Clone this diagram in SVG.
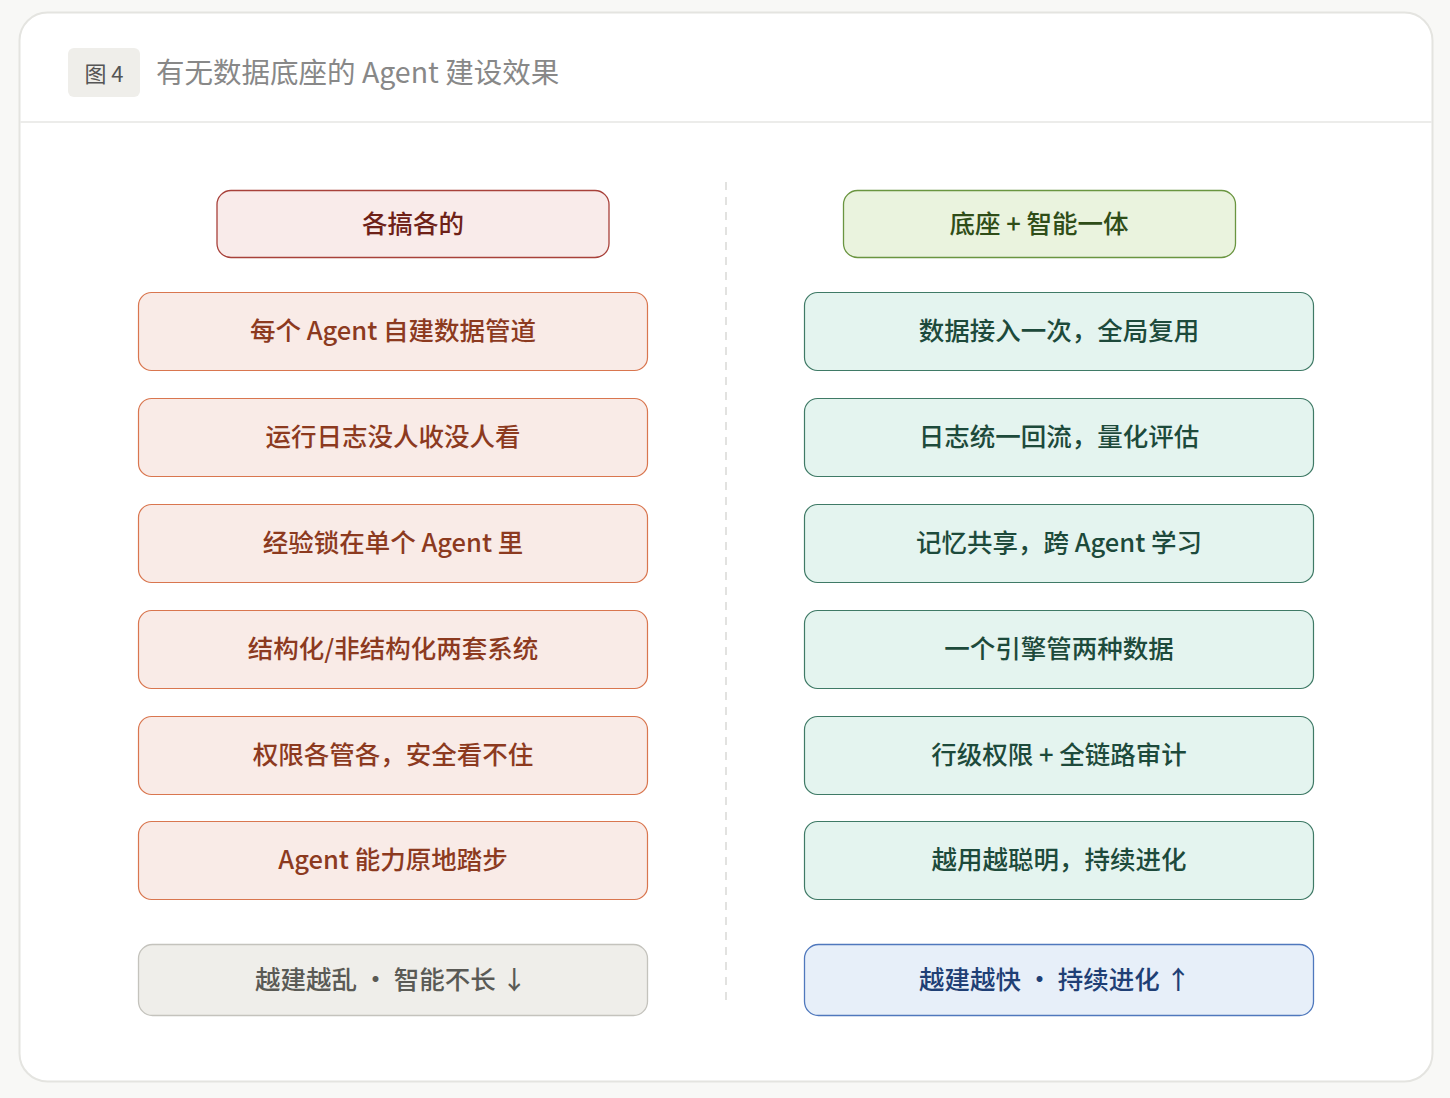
<svg xmlns="http://www.w3.org/2000/svg" width="1450" height="1098" viewBox="0 0 1450 1098">
<style>
text{font-family:"Noto Sans CJK SC","Noto Sans",sans-serif;text-anchor:middle;dominant-baseline:central}
.t{font-size:25.5px;font-weight:500}
.l rect{fill:#f9ebe7;stroke:#d9764f;stroke-width:1.2}
.l text{fill:#8c3a1f}
.r rect{fill:#e4f4ef;stroke:#3f7a66;stroke-width:1.2}
.r text{fill:#1d4a3b}
</style>
<rect width="1450" height="1098" fill="#f8f8f6"/>
<rect x="19.5" y="12.5" width="1413" height="1069" rx="28" fill="#fff" stroke="#e4e4e0" stroke-width="2"/>
<line x1="20" y1="122" x2="1432" y2="122" stroke="#ececea" stroke-width="2"/>
<g id="badge"><rect x="68" y="48" width="72" height="49" rx="6" fill="#efeeea"/><text x="104" y="72" font-size="22" fill="#555">图 4</text></g>
<text x="156" y="70" font-size="28.5" fill="#888" style="text-anchor:start">有无数据底座的 Agent 建设效果</text>
<g id="connectors"><line x1="726" y1="182" x2="726" y2="1005" stroke="#e2e2e0" stroke-width="2" stroke-dasharray="8,7"/></g>
<g id="lh"><rect x="217" y="190.5" width="392" height="67" rx="14" fill="#f9ebea" stroke="#a8413a" stroke-width="1.3"/><text class="t" x="413" y="221" fill="#6e2118">各搞各的</text></g>
<g id="rh"><rect x="843.5" y="190.5" width="392" height="67" rx="14" fill="#eaf3de" stroke="#6a9540" stroke-width="1.3"/><text class="t" x="1039" y="221" fill="#2f4d18">底座 + 智能一体</text></g>
<g class="l">
<g id="l1"><rect x="138.5" y="292.5" width="509" height="78" rx="13"/><text class="t" x="393" y="328">每个 Agent 自建数据管道</text></g>
<g id="l2"><rect x="138.5" y="398.5" width="509" height="78" rx="13"/><text class="t" x="393" y="434">运行日志没人收没人看</text></g>
<g id="l3"><rect x="138.5" y="504.5" width="509" height="78" rx="13"/><text class="t" x="393" y="540">经验锁在单个 Agent 里</text></g>
<g id="l4"><rect x="138.5" y="610.5" width="509" height="78" rx="13"/><text class="t" x="393" y="646">结构化/非结构化两套系统</text></g>
<g id="l5"><rect x="138.5" y="716.5" width="509" height="78" rx="13"/><text class="t" x="393" y="752">权限各管各，安全看不住</text></g>
<g id="l6"><rect x="138.5" y="821.5" width="509" height="78" rx="13"/><text class="t" x="393" y="857">Agent 能力原地踏步</text></g>
</g>
<g class="r">
<g id="r1"><rect x="804.5" y="292.5" width="509" height="78" rx="13"/><text class="t" x="1059" y="328">数据接入一次，全局复用</text></g>
<g id="r2"><rect x="804.5" y="398.5" width="509" height="78" rx="13"/><text class="t" x="1059" y="434">日志统一回流，量化评估</text></g>
<g id="r3"><rect x="804.5" y="504.5" width="509" height="78" rx="13"/><text class="t" x="1059" y="540">记忆共享，跨 Agent 学习</text></g>
<g id="r4"><rect x="804.5" y="610.5" width="509" height="78" rx="13"/><text class="t" x="1059" y="646">一个引擎管两种数据</text></g>
<g id="r5"><rect x="804.5" y="716.5" width="509" height="78" rx="13"/><text class="t" x="1059" y="752">行级权限 + 全链路审计</text></g>
<g id="r6"><rect x="804.5" y="821.5" width="509" height="78" rx="13"/><text class="t" x="1059" y="857">越用越聪明，持续进化</text></g>
</g>
<g id="lb"><rect x="138.5" y="944.5" width="509" height="71" rx="14" fill="#efeeea" stroke="#c4c3bd" stroke-width="1.3"/><text class="t" x="391" y="977" fill="#5a5a55">越建越乱 · 智能不长 ↓</text></g>
<g id="rb"><rect x="804.5" y="944.5" width="509" height="71" rx="14" fill="#e7eff9" stroke="#4f78bd" stroke-width="1.3"/><text class="t" x="1055" y="977" fill="#1f3f75">越建越快 · 持续进化 ↑</text></g>
</svg>
